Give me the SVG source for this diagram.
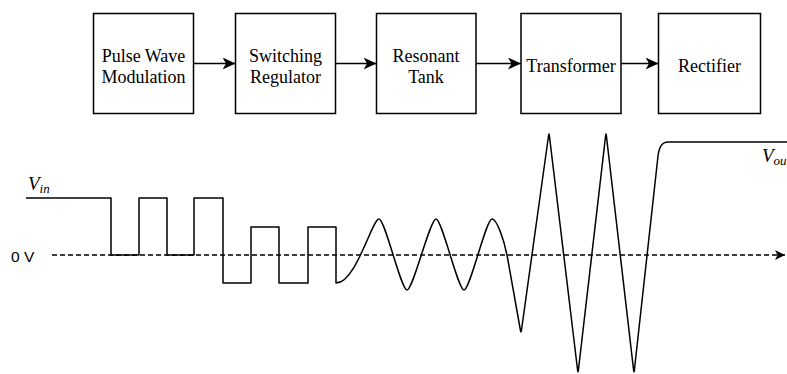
<svg xmlns="http://www.w3.org/2000/svg" width="787" height="374" viewBox="0 0 787 374">
  <style>
    .box { fill: #ffffff; stroke: #000000; stroke-width: 1.5; }
    .lbl { font-family: "Liberation Serif", "Times New Roman", serif; font-size: 18px; fill: #000000; text-anchor: middle; }
    .conn { fill: none; stroke: #000000; stroke-width: 1.5; }
    .wave { fill: none; stroke: #000000; stroke-width: 1.5; stroke-linejoin: round; }
    .axis { fill: none; stroke: #000000; stroke-width: 1.5; stroke-dasharray: 5 3; }
    .var { font-family: "Liberation Serif", "Times New Roman", serif; font-style: italic; font-size: 19px; fill: #000000; }
    .sans { font-family: "Liberation Sans", Arial, sans-serif; font-size: 15.5px; fill: #000000; }
  </style>
  <defs>
    <marker id="arr" markerUnits="userSpaceOnUse" viewBox="0 0 13 12" refX="13" refY="6" markerWidth="13" markerHeight="12" orient="auto">
      <path d="M0,0 L13,6 L0,12 L3.5,6 Z" fill="#000000"/>
    </marker>
    <marker id="arrs" markerUnits="userSpaceOnUse" viewBox="0 0 10 10" refX="10" refY="5" markerWidth="10" markerHeight="10" orient="auto">
      <path d="M0,0 L10,5 L0,10 L2.5,5 Z" fill="#000000"/>
    </marker>
  </defs>

  <g id="pwm">
    <rect class="box" x="93.5" y="13.5" width="100" height="100"/>
    <text class="lbl" x="143.5" y="61.5">Pulse Wave</text>
    <text class="lbl" x="143.5" y="82.5">Modulation</text>
  </g>
  <g id="switching-regulator">
    <rect class="box" x="235.5" y="13.5" width="100" height="100"/>
    <text class="lbl" x="285.5" y="61.5">Switching</text>
    <text class="lbl" x="285.5" y="82.5">Regulator</text>
  </g>
  <g id="resonant-tank">
    <rect class="box" x="376.5" y="13.5" width="99.5" height="100"/>
    <text class="lbl" x="426" y="61.5">Resonant</text>
    <text class="lbl" x="426" y="82.5">Tank</text>
  </g>
  <g id="transformer">
    <rect class="box" x="521" y="13.5" width="100" height="100"/>
    <text class="lbl" x="571" y="71.5">Transformer</text>
  </g>
  <g id="rectifier">
    <rect class="box" x="658.5" y="13.5" width="102" height="100"/>
    <text class="lbl" x="709.5" y="71.5">Rectifier</text>
  </g>

  <g id="connectors">
    <line class="conn" x1="193.5" y1="63.5" x2="235.5" y2="63.5" marker-end="url(#arr)"/>
    <line class="conn" x1="335.5" y1="63.5" x2="376.5" y2="63.5" marker-end="url(#arr)"/>
    <line class="conn" x1="476" y1="63.5" x2="521" y2="63.5" marker-end="url(#arr)"/>
    <line class="conn" x1="621" y1="63.5" x2="658.5" y2="63.5" marker-end="url(#arr)"/>
  </g>

  <g id="waveform">
    <line class="axis" x1="52" y1="255" x2="785" y2="255" marker-end="url(#arrs)"/>
    <text class="sans" x="11" y="262">0 V</text>
    <path class="wave" d="M26,198 H111 V255 H139 V198 H167 V255 H194 V198 H223 V283 H251 V227 H279 V283 H308 V227 H336 V283
      C356,283 372,219 379,219
      C385,219 401,290 407,290
      C413,290 430,219 436,219
      C442,219 458,290 464,290
      C470,290 486,219 492,219
      C497,219 504,240 507,255
      L520.47,330.5 Q521,333.5 521.42,330.5
      L548.58,135.5 Q549,132.5 549.36,135.5
      L577.64,370.5 Q578,373.5 578.35,370.5
      L605.65,135.5 Q606,132.5 606.35,135.5
      L633.65,370.5 Q634,373.5 634.33,370.5
      L658,156 Q659.6,142 668,142 H787"/>
    <text class="var" x="28" y="190">V<tspan font-size="13" dy="3">in</tspan></text>
    <text class="var" x="762" y="162">V<tspan font-size="13" dy="3">out</tspan></text>
  </g>
</svg>
